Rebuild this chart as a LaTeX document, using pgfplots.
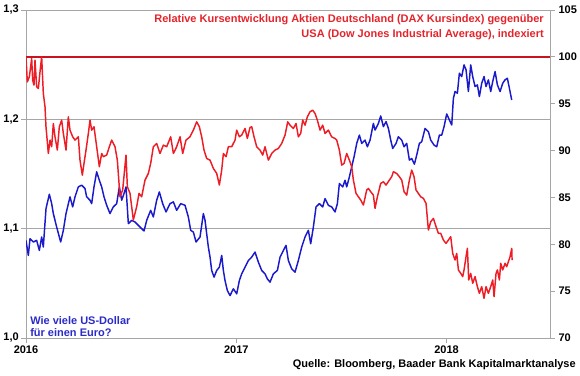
\documentclass[border=0pt]{standalone}
\usepackage{pgfplots}
\pgfplotsset{compat=1.18}
\usepackage{fontspec}
\setmainfont{Liberation Sans}
\definecolor{myred}{HTML}{EE1C25}
\definecolor{myblue}{HTML}{1A1ACC}
\definecolor{darkred}{HTML}{C8141E}
\definecolor{axgray}{HTML}{A6A6A6}
\definecolor{txtred}{HTML}{E3242B}
\definecolor{txtblue}{HTML}{2B2BC8}
\newcommand\tf{\fontsize{8.25}{9.9}\selectfont\bfseries}

\pgfplotstableread{
x y
0.0000 1.0893
0.0111 1.0755
0.0190 1.0908
0.0349 1.0878
0.0507 1.0893
0.0634 1.0801
0.0745 1.0924
0.0824 1.0832
0.0951 1.1183
0.1110 1.1315
0.1221 1.1229
0.1300 1.1138
0.1459 1.1015
0.1649 1.0878
0.1776 1.0985
0.1903 1.1138
0.2093 1.1291
0.2220 1.1199
0.2331 1.1291
0.2489 1.1382
0.2648 1.1398
0.2806 1.1367
0.2885 1.1291
0.3044 1.1260
0.3123 1.1229
0.3234 1.1382
0.3361 1.1520
0.3488 1.1443
0.3599 1.1382
0.3710 1.1291
0.3837 1.1214
0.3995 1.1138
0.4154 1.1199
0.4312 1.1229
0.4439 1.1382
0.4550 1.1260
0.4661 1.1321
0.4756 1.1382
0.4867 1.1046
0.5026 1.1076
0.5184 1.1061
0.5422 1.1015
0.5612 1.0979
0.5739 1.1076
0.5929 1.1168
0.6056 1.1107
0.6215 1.1260
0.6342 1.1336
0.6500 1.1229
0.6659 1.1153
0.6849 1.1229
0.7008 1.1245
0.7166 1.1168
0.7356 1.1229
0.7562 1.1214
0.7721 1.1107
0.7832 1.0985
0.7959 1.0969
0.8086 1.0878
0.8276 1.0924
0.8434 1.1138
0.8514 1.1076
0.8672 1.0832
0.8752 1.0740
0.8831 1.0618
0.8942 1.0557
0.9069 1.0618
0.9196 1.0648
0.9307 1.0755
0.9386 1.0618
0.9465 1.0526
0.9576 1.0434
0.9703 1.0388
0.9862 1.0450
1.0020 1.0404
1.0147 1.0526
1.0258 1.0587
1.0417 1.0648
1.0575 1.0709
1.0734 1.0740
1.0892 1.0786
1.1050 1.0694
1.1209 1.0618
1.1367 1.0587
1.1478 1.0541
1.1605 1.0511
1.1764 1.0587
1.1954 1.0618
1.2081 1.0740
1.2239 1.0801
1.2366 1.0847
1.2477 1.0709
1.2636 1.0633
1.2794 1.0602
1.2953 1.0709
1.3111 1.0832
1.3270 1.0924
1.3428 1.0985
1.3539 1.0862
1.3666 1.1015
1.3793 1.1199
1.3952 1.1229
1.4110 1.1199
1.4221 1.1275
1.4380 1.1214
1.4538 1.1199
1.4697 1.1153
1.4808 1.1229
1.4903 1.1413
1.5062 1.1382
1.5173 1.1443
1.5252 1.1382
1.5379 1.1474
1.5490 1.1566
1.5601 1.1657
1.5728 1.1780
1.5855 1.1856
1.5966 1.1780
1.6124 1.1810
1.6235 1.1749
1.6362 1.1810
1.6520 1.1963
1.6600 1.1902
1.6758 1.1963
1.6869 1.2031
1.6996 1.1933
1.7123 1.1979
1.7234 1.1917
1.7345 1.1810
1.7440 1.1734
1.7598 1.1780
1.7709 1.1841
1.7868 1.1810
1.7979 1.1749
1.8105 1.1780
1.8232 1.1627
1.8343 1.1642
1.8470 1.1590
1.8581 1.1673
1.8708 1.1780
1.8819 1.1795
1.8977 1.1917
1.9136 1.1887
1.9247 1.1810
1.9405 1.1765
1.9532 1.1749
1.9659 1.1856
1.9770 1.1856
1.9881 1.1933
2.0008 1.2049
2.0135 1.1994
2.0246 1.1948
2.0325 1.2193
2.0404 1.2254
2.0515 1.2239
2.0610 1.2422
2.0721 1.2391
2.0832 1.2498
2.0927 1.2453
2.1038 1.2254
2.1149 1.2498
2.1244 1.2391
2.1355 1.2300
2.1466 1.2315
2.1561 1.2208
2.1672 1.2330
2.1783 1.2391
2.1878 1.2300
2.1990 1.2361
2.2101 1.2254
2.2196 1.2346
2.2307 1.2437
2.2418 1.2315
2.2545 1.2254
2.2671 1.2330
2.2782 1.2361
2.2893 1.2376
2.2989 1.2284
2.3100 1.2177
}\usd

\pgfplotstableread{
x y
0.0000 100.00
0.0063 97.33
0.0159 97.87
0.0270 99.82
0.0317 97.51
0.0380 96.98
0.0428 99.64
0.0507 96.80
0.0587 96.62
0.0666 98.40
0.0745 100.00
0.0824 96.09
0.0904 94.67
0.0951 92.54
0.1062 89.69
0.1142 91.12
0.1221 90.41
0.1300 92.89
0.1379 91.47
0.1490 90.05
0.1585 92.54
0.1696 93.25
0.1776 91.83
0.1903 90.05
0.2013 93.60
0.2093 92.18
0.2220 91.47
0.2331 91.12
0.2489 91.47
0.2568 88.98
0.2679 87.38
0.2759 88.63
0.2854 90.05
0.2965 91.83
0.3044 93.25
0.3123 92.18
0.3234 92.54
0.3361 90.41
0.3488 88.27
0.3599 89.69
0.3678 89.34
0.3837 89.52
0.3964 90.41
0.4075 91.12
0.4233 90.41
0.4344 88.98
0.4471 85.07
0.4598 85.79
0.4756 89.52
0.4820 86.14
0.4947 85.43
0.5105 82.59
0.5264 84.01
0.5375 85.43
0.5501 85.07
0.5660 86.85
0.5818 87.56
0.5929 88.63
0.6056 90.41
0.6215 90.76
0.6373 89.69
0.6532 90.58
0.6690 90.41
0.6881 91.47
0.7008 89.69
0.7166 90.41
0.7325 91.47
0.7452 89.69
0.7610 91.12
0.7800 91.47
0.7959 92.18
0.8117 93.07
0.8244 92.54
0.8355 91.47
0.8466 90.05
0.8593 89.16
0.8752 88.98
0.8910 88.10
0.9069 87.56
0.9196 86.32
0.9307 87.92
0.9386 89.69
0.9513 89.34
0.9624 90.41
0.9782 90.41
0.9941 91.12
1.0020 92.18
1.0147 91.47
1.0258 91.65
1.0417 92.36
1.0527 91.29
1.0654 92.47
1.0734 92.54
1.0845 91.47
1.0971 90.41
1.1130 90.05
1.1257 89.52
1.1368 90.41
1.1526 88.98
1.1685 89.69
1.1843 90.05
1.2002 90.23
1.2160 90.76
1.2319 91.65
1.2445 93.07
1.2556 92.71
1.2715 92.36
1.2842 92.89
1.2953 91.47
1.3064 91.83
1.3159 93.25
1.3270 92.71
1.3381 93.60
1.3508 94.14
1.3634 94.31
1.3745 93.96
1.3856 93.25
1.3983 92.18
1.4110 92.71
1.4221 91.83
1.4380 92.18
1.4538 91.47
1.4697 91.29
1.4776 91.12
1.4903 90.05
1.5014 88.45
1.5125 88.63
1.5252 89.69
1.5379 88.98
1.5490 88.27
1.5569 86.85
1.5696 85.43
1.5807 85.07
1.5918 84.72
1.6045 84.19
1.6203 85.79
1.6283 85.96
1.6394 85.61
1.6520 85.25
1.6600 83.83
1.6711 85.07
1.6869 86.50
1.6996 86.67
1.7123 86.32
1.7281 86.85
1.7392 87.21
1.7472 87.74
1.7630 87.56
1.7757 87.21
1.7868 86.85
1.7979 85.61
1.8105 85.25
1.8232 86.85
1.8343 87.92
1.8454 87.21
1.8549 85.79
1.8660 85.43
1.8771 85.07
1.8898 84.90
1.9025 84.36
1.9136 81.52
1.9247 82.41
1.9374 82.76
1.9501 81.88
1.9612 81.17
1.9723 81.17
1.9850 80.45
1.9976 80.10
2.0087 80.45
2.0198 80.81
2.0293 79.03
2.0404 78.32
2.0483 79.03
2.0563 77.26
2.0674 76.90
2.0769 76.55
2.0832 77.26
2.0927 78.68
2.0991 79.57
2.1054 76.19
2.1149 76.90
2.1244 75.84
2.1355 76.55
2.1466 75.48
2.1561 74.77
2.1672 75.48
2.1783 74.24
2.1878 75.48
2.1990 74.77
2.2101 75.48
2.2196 76.19
2.2259 74.41
2.2354 76.90
2.2418 77.26
2.2513 76.19
2.2576 77.97
2.2671 77.26
2.2782 77.97
2.2862 77.61
2.2941 78.15
2.3020 78.68
2.3100 79.57
2.3116 78.32
}\rel

\begin{document}
\begin{tikzpicture}
\path[use as bounding box] (-19.5pt,-27.75pt) rectangle (415.5pt,253.5pt);
% left axis: EUR/USD
\begin{axis}[
  at={(0,0)}, anchor=south west, scale only axis,
  width=393pt, height=246pt,
  xmin=0, xmax=2.492, ymin=1.0, ymax=1.3,
  axis line style={axgray, line width=0.75pt},
  xtick={0,1,2}, xticklabels={2016,2017,2018},
  ytick={1.0,1.1,1.2,1.3}, yticklabels={{1,0},{1,1},{1,2},{1,3}},
  xtick pos=lower, ytick pos=left,
  tick align=outside, major tick length=3.75pt,
  tick style={axgray, line width=0.75pt},
  ymajorgrids, grid style={axgray, line width=0.75pt},
  yticklabel style={font=\tf, inner sep=1.5pt},
  xticklabel style={font=\tf, inner sep=2pt},
]
\addplot[myblue, line width=1.1pt, line join=round] table[x=x,y=y] {\usd};
\end{axis}
% right axis: relative performance
\begin{axis}[
  at={(0,0)}, anchor=south west, scale only axis,
  width=393pt, height=246pt,
  xmin=0, xmax=2.492, ymin=70, ymax=105,
  axis line style={draw=none},
  xtick=\empty,
  ytick={70,75,80,85,90,95,100,105},
  yticklabels={70,75,80,85,90,95,100,105},
  ytick pos=right, yticklabel pos=right,
  tick align=outside, major tick length=3.75pt,
  tick style={axgray, line width=0.75pt},
  yticklabel style={font=\tf, inner sep=2.5pt},
]
\addplot[darkred, line width=1.8pt] coordinates {(0,100) (2.492,100)};
\addplot[myred, line width=1.1pt, line join=round] table[x=x,y=y] {\rel};
\end{axis}
\node[anchor=base east, txtred, font=\tf, inner sep=0pt] at (388.5pt,236.6pt) {Relative Kursentwicklung Aktien Deutschland (DAX Kursindex) gegenüber};
\node[anchor=base east, txtred, font=\tf, inner sep=0pt] at (388.5pt,225.4pt) {USA (Dow Jones Industrial Average), indexiert};
\node[anchor=base west, txtblue, font=\tf, inner sep=0pt] at (3pt,10.5pt) {Wie viele US-Dollar};
\node[anchor=base west, txtblue, font=\tf, inner sep=0pt] at (3pt,1.5pt) {für einen Euro?};
\node[anchor=base east, black, font=\tf, inner sep=0pt] at (412.5pt,-21.75pt) {Quelle: Bloomberg, Baader Bank Kapitalmarktanalyse};
\end{tikzpicture}
\end{document}
